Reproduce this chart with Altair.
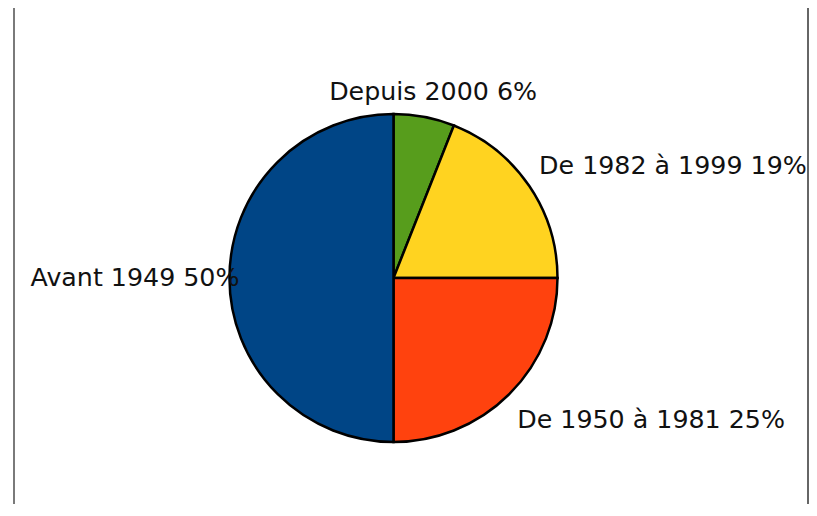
import altair as alt
import pandas as pd

categories = ["Depuis 2000", "De 1982 à 1999", "De 1950 à 1981", "Avant 1949"]
values = [6, 19, 25, 50]
colors = ["#579d1c", "#ffd320", "#ff420e", "#004586"]

df = pd.DataFrame({
    "idx": list(range(len(categories))),
    "cat": categories,
    "value": values,
})
df["label"] = [f"{c} {v}%" for c, v in zip(categories, values)]

CX, CY = 385.5, 270
R = 164
FONT = "DejaVu Sans"
FS = 25.3
W, H = 801, 496

theta_scale = alt.Scale(domain=[0, 100])

base = alt.Chart(df).transform_window(
    cum="sum(value)", sort=[{"field": "idx"}]
).transform_calculate(mid="datum.cum - datum.value / 2")

pie = base.mark_arc(outerRadius=R, stroke="black", strokeWidth=2.5).encode(
    theta=alt.Theta("value:Q", stack=True, scale=theta_scale),
    color=alt.Color("cat:N", scale=alt.Scale(domain=categories, range=colors), legend=None),
    order=alt.Order("idx:Q"),
    x=alt.value(CX),
    y=alt.value(CY),
)

label_styles = {
    "Depuis 2000": dict(align="center", radius=190, dx=4, dy=1),
    "De 1982 à 1999": dict(align="left", radius=176, dx=0, dy=-13),
    "De 1950 à 1981": dict(align="left", radius=175, dx=0, dy=18),
    "Avant 1949": dict(align="right", radius=154, dx=0, dy=0),
}

labels = []
for c in categories:
    s = label_styles[c]
    labels.append(
        base.transform_filter(alt.datum.cat == c).mark_text(
            align=s["align"], baseline="middle", radius=s["radius"],
            dx=s["dx"], dy=s["dy"], font=FONT, fontSize=FS, color="#111111",
        ).encode(
            theta=alt.Theta("mid:Q", scale=theta_scale),
            text="label:N",
            x=alt.value(CX),
            y=alt.value(CY),
        )
    )

frame_df = pd.DataFrame({"k": [0]})
left_line = alt.Chart(frame_df).mark_rule(color="#7a7a7a", strokeWidth=2).encode(
    x=alt.value(6), y=alt.value(0), y2=alt.value(H)
)
right_line = alt.Chart(frame_df).mark_rule(color="#333333", strokeWidth=1.5).encode(
    x=alt.value(W - 1), y=alt.value(0), y2=alt.value(H)
)

chart = alt.layer(left_line, right_line, pie, *labels).properties(
    width=W, height=H, padding=0,
    autosize=alt.AutoSizeParams(type="none"),
).configure_view(stroke=None)

chart.save("out.html", embed_options={"renderer": "svg", "actions": False})
